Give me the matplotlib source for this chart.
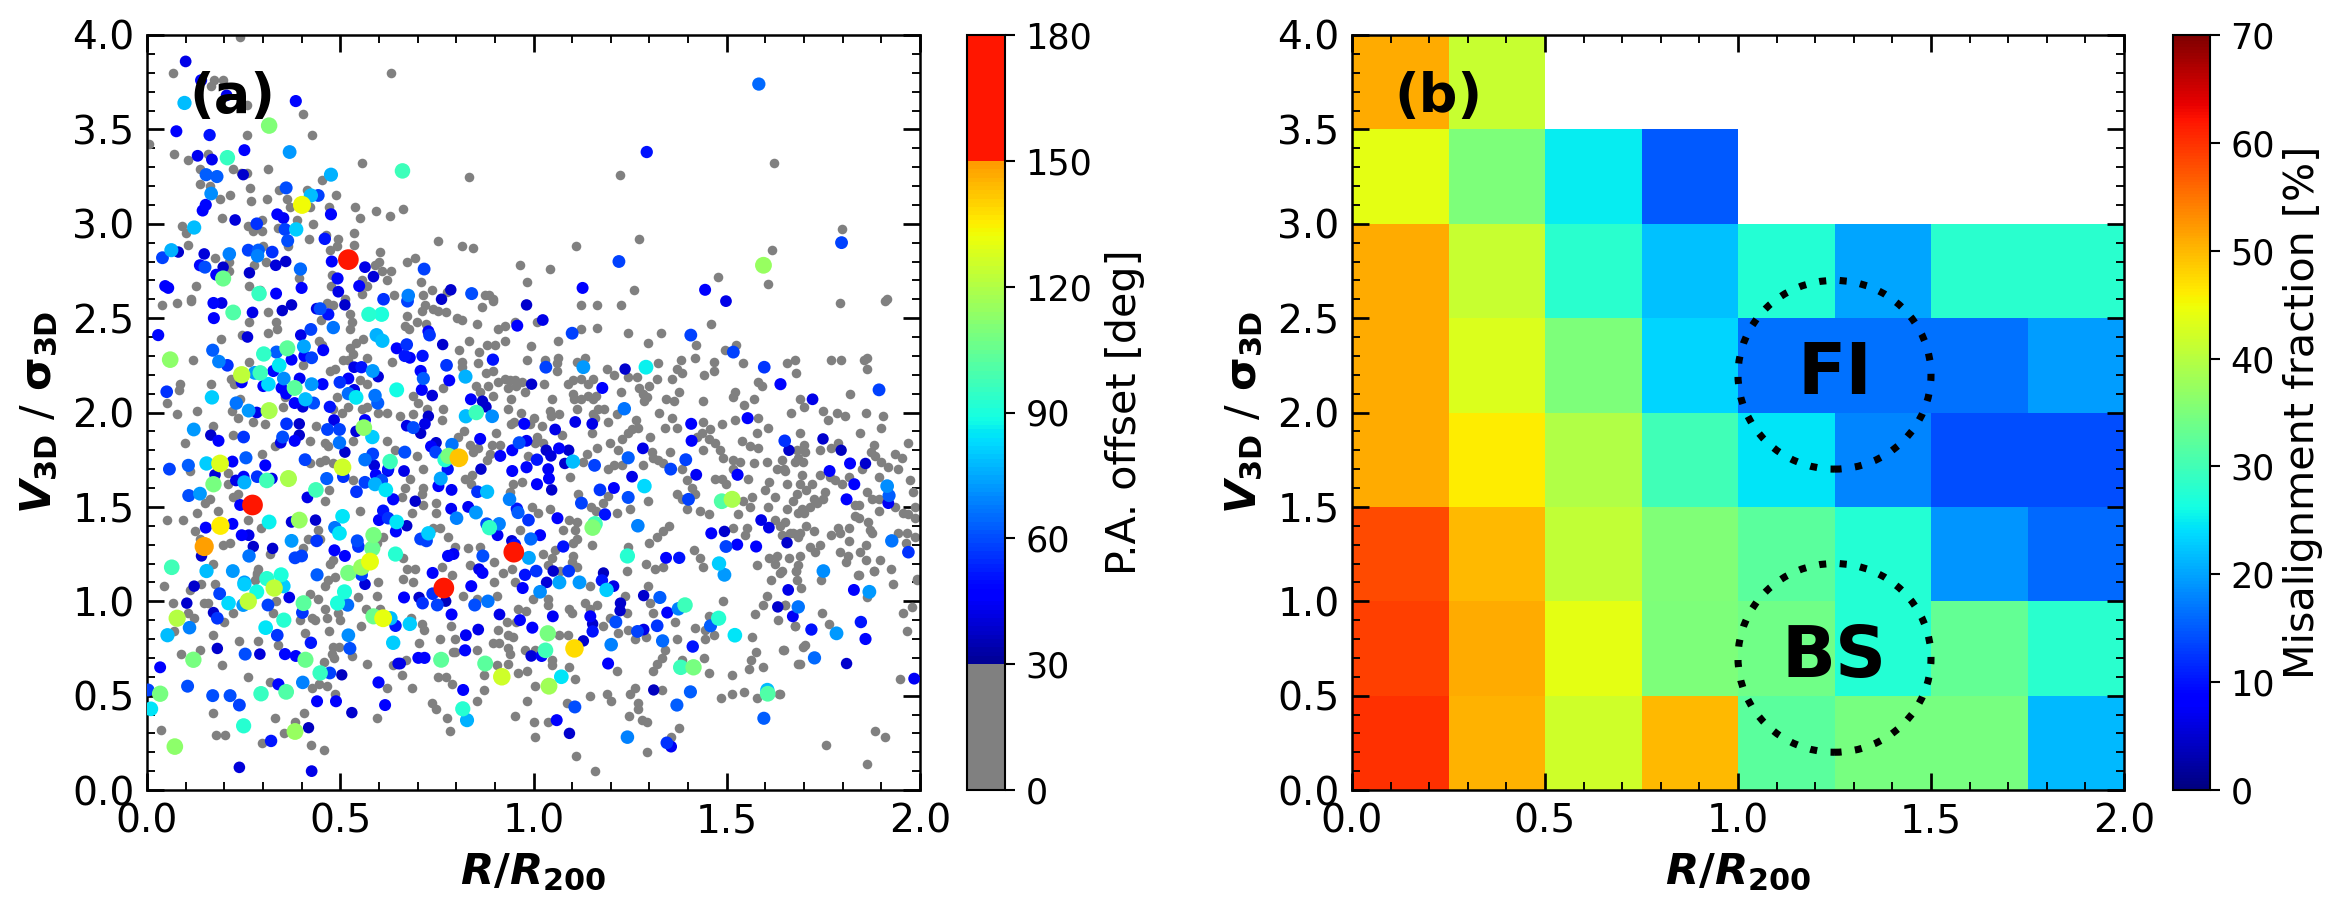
import matplotlib
matplotlib.use('Agg')
import matplotlib.pyplot as plt
from matplotlib.colors import ListedColormap, Normalize
from matplotlib.cm import ScalarMappable
from matplotlib.patches import Ellipse
from matplotlib.ticker import MultipleLocator
import numpy as np

################################
## DATA:                      ##

# (R/R200, V3D/sigma3D) of the aligned galaxies, P.A. offset < 30 deg
gray_pts = [
 (.24,3.99),(.067,3.80),(.165,3.73),(.174,3.76),(.197,3.76),(.259,3.63),(.632,3.80),(.404,3.58),(.26,3.47),(.427,3.47),
 (.005,3.42),(.069,3.37),(.107,3.34),(.159,3.37),(.555,3.32),(.137,3.29),(.222,3.29),(.242,3.27),(.26,3.27),(.313,3.29),
 (.137,3.21),(.163,3.20),(.266,3.19),(.453,3.23),(.341,3.18),(.413,3.18),(.216,3.15),(.488,3.15),(.189,3.13),(.268,3.12),
 (.311,3.13),(.363,3.13),(.37,3.09),(.422,3.09),(.472,3.09),(.538,3.09),(.592,3.07),(.63,3.04),(.193,3.03),(.09,2.99),
 (.262,2.99),(.298,3.02),(.387,3.02),(.552,3.03),(.43,3.0),(.10,2.95),(.107,2.89),(.275,2.96),(.297,2.96),(.34,2.98),
 (.42,2.92),(.494,2.92),(.535,2.95),(.301,2.88),(.535,2.89),(.366,2.88),(.462,2.94),(.473,2.86),(.492,2.88),(.603,2.85),
 (.176,2.82),(.213,2.80),(.599,2.80),(.59,2.78),(.308,2.80),(.277,2.78),(.607,2.75),(.632,2.75),(.478,2.73),(.213,2.75),
 (.393,2.71),(.62,2.70),(.555,2.70),(.126,2.67),(.265,2.67),(.475,2.67),(.568,2.67),(.555,2.63),(.113,2.60),(.512,2.60),
 (.64,2.62),(.292,2.65),(.833,3.25),(1.225,3.26),(1.623,3.32),(.663,3.08),(.753,2.91),(.815,2.88),(.844,2.87),(1.273,2.92),
 (1.11,2.88),(1.618,2.86),(.965,2.78),(1.042,2.76),(.672,2.80),(.693,2.82),(1.478,2.72),(.708,2.69),(.738,2.65),(.983,2.69),
 (1.26,2.65),(1.607,2.68),(.715,2.62),(.775,2.64),(.875,2.62),(.886,2.62),(.896,2.60),(1.797,2.97),(1.915,2.60),
 (.039,2.57),(.078,2.58),(.114,2.59),(.314,2.53),(.263,2.48),(.333,2.48),(.337,2.44),(.191,2.39),(.245,2.41),(.314,2.42),
 (.524,2.44),(.525,2.52),(.53,2.48),(.449,2.49),(.482,2.57),(.465,2.58),(.446,2.38),(.452,2.36),(.56,2.39),(.542,2.37),
 (.525,2.34),(.521,2.28),(.534,2.31),(.508,2.28),(.568,2.29),(.633,2.27),(.118,2.28),(.265,2.27),(.404,2.25),(.486,2.23),
 (.473,2.22),(.085,2.15),(.084,2.12),(.165,2.15),(.217,2.18),(.225,2.15),(.568,2.15),(.551,2.17),(.052,2.05),(.129,2.01),
 (.078,1.99),(.241,2.07),(.357,2.08),(.353,2.03),(.219,2.01),(.236,1.97),(.275,1.95),(.491,2.08),(.482,2.02),(.504,2.0),
 (.521,2.03),(.555,2.02),(.568,2.03),(.598,2.0),(.62,2.0),(.172,1.93),(.306,1.94),(.098,1.84),(.223,1.88),(.437,1.93),
 (.331,1.82),(.423,1.85),(.46,1.84),(.469,1.82),(.448,1.74),(.46,1.75),(.482,1.73),(.534,1.85),(.62,1.85),(.642,1.80),
 (.297,1.78),(.422,1.73),(.111,1.69),(.209,1.68),(.21,1.62),(.534,1.64),(.236,1.57),(.223,1.55),(.163,1.54),(.15,1.52),
 (.46,1.53),(.471,1.59),(.183,1.48),(.129,1.47),(.051,1.43),(.093,1.43),(.262,1.43),(.552,1.48),(.295,1.39),(.124,1.37),
 (.443,1.38),(.137,1.33),(.196,1.30),(.215,1.31),(.417,1.33),(.448,1.33),(.403,1.28),(.482,1.22),(.172,1.20),(.317,1.25),
 (.473,1.20),(.288,1.17),(.284,1.14),(.594,1.31),(.611,1.34),
 (.045,1.08),(.141,1.09),(.111,1.06),(.176,1.09),(.066,.99),(.147,.99),(.159,.99),(.279,1.11),(.285,1.15),(.335,1.0),
 (.422,1.04),(.443,1.01),(.461,1.08),(.469,1.11),(.486,1.13),(.547,1.02),(.594,1.03),(.597,1.10),(.107,.94),(.122,.91),
 (.2,.89),(.222,.94),(.327,.94),(.426,.91),(.435,.90),(.396,.90),(.461,.96),(.465,.91),(.495,.94),(.499,.90),
 (.553,.87),(.566,.96),(.603,.96),(.071,.84),(.172,.82),(.237,.79),(.286,.79),(.409,.83),(.472,.84),(.338,.77),
 (.48,.76),(.497,.76),(.478,.72),(.484,.70),(.531,.71),(.137,.74),(.087,.72),(.57,.67),(.195,.66),(.459,.68),
 (.636,.66),(.262,.60),(.318,.57),(.465,.55),(.446,.56),(.428,.54),(.62,.54),(.486,.51),(.171,.41),(.405,.41),
 (.332,.38),(.596,.38),(.037,.32),(.178,.29),(.201,.29),(.383,.36),(.354,.30),(.297,.25),(.424,.24),(.459,.21),
 (.868,2.56),(.894,2.59),(.719,2.57),(.74,2.55),(.711,2.54),(.753,2.54),(.774,2.53),(.672,2.51),(.803,2.50),(.814,2.49),
 (.853,2.47),(.698,2.48),(.722,2.47),(.668,2.46),(.677,2.44),(.909,2.44),(.926,2.46),(.833,2.38),(.879,2.36),(.901,2.36),
 (.925,2.38),(.952,2.48),(1.008,2.48),(1.123,2.57),(1.164,2.57),(1.226,2.57),(1.124,2.44),(1.165,2.45),(1.244,2.42),(1.33,2.42),
 (1.295,2.37),(1.063,2.38),(.993,2.35),(1.458,2.47),(1.42,2.36),(1.523,2.36),(1.496,2.33),(.807,2.33),(.859,2.32),(.982,2.28),
 (1.03,2.28),(1.064,2.29),(1.06,2.26),(1.112,2.27),(1.133,2.29),(1.323,2.26),(1.381,2.28),(1.417,2.29),(1.466,2.27),(1.541,2.26),
 (1.655,2.26),(1.676,2.28),(.814,2.27),(.857,2.26),(.814,2.24),(.896,2.22),(.877,2.21),(1.062,2.22),(1.191,2.23),(1.209,2.20),
 (1.245,2.19),(1.269,2.19),(1.371,2.23),(1.385,2.21),(1.358,2.18),(1.319,2.18),(1.44,2.20),(1.468,2.22),(1.678,2.21),(1.122,2.18),
 (1.103,2.17),(1.088,2.15),(1.155,2.18),(1.142,2.15),(1.3,2.14),(1.274,2.13),(1.582,2.16),(1.591,2.14),(.927,2.18),(.909,2.16),
 (.94,2.17),(.953,2.17),(.97,2.16),(.956,2.14),(.978,2.11),(.935,2.13),(1.028,2.15),(.852,2.14),(.881,2.14),(.861,2.11),
 (.894,2.09),(.767,2.13),(.688,2.09),(.702,2.05),(.767,2.02),(.942,2.07),(1.048,2.07),(1.103,2.10),(1.105,2.07),(1.124,2.07),
 (1.142,2.09),(1.163,2.09),(1.155,2.07),(1.227,2.11),(1.377,2.11),(1.284,2.10),(1.293,2.08),(1.287,2.06),(1.342,2.07),(1.364,2.06),
 (1.521,2.11),(1.517,2.08),(1.571,2.07),(1.545,2.04),(1.438,2.06),(.933,2.02),(1.112,2.02),(1.043,2.01),(1.045,1.98),(1.067,1.99),
 (1.168,2.02),(1.155,1.99),(1.183,2.02),(1.215,1.99),(1.326,2.0),(1.666,2.0),(.724,2.02),(.763,1.96),(.689,1.99),(.655,1.98),
 (.95,1.95),(.967,2.0),(.942,1.94),(1.002,1.97),(.991,1.94),(1.021,1.93),(1.074,1.88),(1.159,1.97),(1.194,1.95),(1.265,1.96),
 (1.271,1.92),(1.254,1.91),(1.358,1.97),(1.34,1.92),(1.37,1.92),(1.439,1.95),(1.456,1.91),(1.487,1.94),(1.521,1.96),(1.582,1.97),
 (1.608,1.92),(1.151,1.89),(1.245,1.89),(1.228,1.86),(1.301,1.87),(1.435,1.89),(1.422,1.87),(1.453,1.86),(1.577,1.89),(1.539,1.85),
 (.903,1.89),(.819,1.90),(.805,1.87),(.836,1.83),(.892,1.83),(.913,1.83),(.857,1.81),(.844,1.79),(1.009,1.87),(1.004,1.84),
 (.987,1.77),(1.025,1.84),(1.164,1.81),(1.198,1.84),(1.218,1.80),(1.469,1.84),(1.482,1.80),(1.439,1.80),(1.56,1.82),(1.582,1.81),
 (1.306,1.79),(1.353,1.79),(1.491,1.76),(1.517,1.75),(1.534,1.74),(1.336,1.73),(1.31,1.76),(1.323,1.75),(1.603,1.74),(1.571,1.73),
 (1.685,1.76),(1.642,1.75),(.698,1.77),(.879,1.75),(.888,1.78),(1.138,1.78),(1.129,1.74),(1.194,1.70),(1.207,1.72),(1.229,1.72),
 (1.283,1.72),(1.384,1.70),(1.517,1.70),(1.629,1.70),(1.651,1.69),(.715,1.70),(.823,1.65),(.84,1.67),(.681,1.65),(1.094,1.66),
 (1.396,1.64),(1.47,1.65),(1.487,1.65),(1.556,1.65),(1.499,1.62),(1.609,1.63),(1.657,1.62),(1.409,1.60),(.668,1.60),(.715,1.60),
 (.838,1.62),(.948,1.62),(.969,1.63),(.94,1.58),(1.418,1.57),(1.371,1.57),(1.384,1.54),(1.599,1.59),(1.625,1.55),(1.116,1.57),
 (1.194,1.56),(.659,1.55),(.711,1.57),(.715,1.51),(.749,1.52),(.749,1.47),(.685,1.47),(1.681,1.57),(1.565,1.55),(1.543,1.53),
 (1.559,1.50),(1.608,1.50),(1.655,1.49),(1.685,1.47),(1.15,1.50),(1.181,1.52),(1.161,1.48),(1.215,1.47),(1.249,1.49),(1.295,1.53),
 (1.397,1.49),(1.431,1.48),(1.454,1.46),(1.529,1.46),(.997,1.50),(1.043,1.49),(1.012,1.47),(1.092,1.43),(1.112,1.42),(1.108,1.38),
 (1.319,1.34),(1.336,1.37),(1.351,1.40),(1.298,1.31),(1.517,1.39),(1.552,1.39),(1.547,1.35),(1.625,1.43),(1.685,1.34),(1.642,1.35),
 (1.664,1.36),(.758,1.39),(.779,1.34),(.741,1.39),(.965,1.38),(1.077,1.38),(1.112,1.33),(1.103,1.31),(1.151,1.30),(.83,1.28),
 (.862,1.29),(.797,1.29),(1.416,1.27),(1.431,1.23),(1.61,1.23),(1.63,1.24),(1.66,1.23),(1.579,1.19),(1.625,1.20),(1.638,1.15),
 (1.685,1.19),(1.29,1.20),(1.315,1.17),(1.336,1.18),(1.439,1.18),(1.241,1.16),(1.245,1.29),(1.025,1.25),(1.055,1.27),(1.103,1.24),
 (1.047,1.23),(1.038,1.19),(1.099,1.21),(1.112,1.18),(1.069,1.16),(.898,1.21),(.836,1.19),(.921,1.15),(.944,1.17),(.694,1.17),
 (.672,1.17),(.763,1.18),(.663,1.23),
 (1.793,2.58),(1.91,2.59),(1.771,2.28),(1.796,2.28),(1.854,2.28),(1.864,2.29),(1.862,2.23),(1.819,2.10),(1.689,2.07),(1.701,2.03),
 (1.75,2.01),(1.785,2.0),(1.806,1.98),(1.761,1.96),(1.86,2.0),(1.904,1.98),(1.898,1.92),(1.846,1.89),(1.689,1.89),(1.701,1.83),
 (1.881,1.83),(1.97,1.84),(1.771,1.81),(1.789,1.84),(1.74,1.80),(1.702,1.79),(1.681,1.80),(1.873,1.79),(1.883,1.77),(1.935,1.78),
 (1.953,1.76),(1.698,1.74),(1.676,1.74),(1.9,1.74),(1.849,1.70),(1.918,1.71),(1.943,1.70),(1.648,1.70),(1.694,1.67),(1.74,1.67),
 (1.816,1.66),(1.767,1.66),(1.78,1.64),(1.797,1.62),(1.895,1.66),(1.973,1.64),(1.69,1.62),(1.72,1.62),(1.705,1.59),(1.754,1.58),
 (1.983,1.58),(1.862,1.58),(1.75,1.54),(1.727,1.54),(1.875,1.54),(1.893,1.54),(1.672,1.53),(1.694,1.49),(1.716,1.50),(1.733,1.52),
 (1.70,1.47),(1.832,1.51),(1.842,1.51),(1.935,1.50),(1.894,1.48),(1.957,1.47),(1.97,1.46),(1.987,1.44),(1.987,1.50),(1.832,1.45),
 (1.841,1.44),(1.65,1.42),(1.638,1.40),(1.866,1.42),(1.705,1.40),(1.727,1.37),(1.69,1.36),(1.672,1.36),(1.789,1.39),(1.817,1.39),
 (1.871,1.38),(1.875,1.36),(1.771,1.35),(1.793,1.36),(1.817,1.32),(1.944,1.36),(1.966,1.36),(1.987,1.34),(1.964,1.31),(1.86,1.30),
 (1.716,1.29),(1.74,1.30),(1.729,1.26),(1.793,1.26),(1.815,1.24),(1.845,1.26),(1.86,1.22),(1.897,1.22),(1.689,1.24),(1.809,1.21),
 (1.679,1.16),(1.881,1.16),(1.841,1.14),(1.925,1.17),(1.992,1.11),
 (.689,1.10),(.663,1.12),(.788,1.14),(.899,1.10),(.952,1.10),(.818,1.03),(.853,1.01),(.905,1.03),(.999,1.01),(1.038,1.01),
 (1.038,.98),(1.147,1.08),(1.133,.99),(1.164,.98),(1.147,.96),(.961,.96),(.98,.95),(1.093,.96),(1.099,.94),(.682,.91),
 (.711,.88),(.717,.85),(.787,.87),(.955,.89),(.931,.89),(1.179,.87),(1.198,.91),(1.237,1.03),(1.296,1.08),(1.301,.99),
 (1.31,.94),(1.365,.89),(1.241,.94),(1.245,.85),(1.262,.80),(1.291,.81),(1.371,.80),(1.418,.86),(1.453,.92),(1.444,.85),
 (1.466,.82),(1.444,.80),(1.572,.93),(1.632,.90),(1.49,1.0),(1.603,1.03),(1.615,1.11),(1.595,.98),(1.651,.98),(1.676,.87),
 (1.565,.81),(1.576,.73),(1.646,.74),(1.562,.69),(1.558,.64),(1.593,.65),(1.685,.67),(.907,.85),(.935,.82),(.948,.81),
 (1.065,.82),(1.09,.82),(1.219,.83),(.758,.80),(.797,.80),(.705,.78),(.895,.78),(.912,.78),(.853,.74),(.797,.73),
 (.793,.73),(.933,.75),(.938,.72),(.933,.67),(.978,.74),(1.004,.74),(1.048,.69),(1.048,.66),(.906,.66),(.873,.61),
 (.669,.69),(1.34,.74),(1.332,.70),(1.319,.67),(1.308,.63),(1.215,.63),(1.384,.69),(1.441,.70),(1.454,.62),(1.513,.61),
 (1.092,.65),(.984,.63),(.961,.62),(.752,.60),(.773,.60),(.788,.56),(.661,.61),(.685,.54),(.871,.53),(1.004,.55),
 (1.107,.59),(1.263,.54),(1.25,.51),(1.332,.53),(1.189,.51),(1.201,.47),(1.146,.50),(1.485,.49),(1.513,.51),(1.545,.52),
 (1.577,.49),(1.634,.51),(.738,.46),(.748,.43),(.855,.47),(.984,.47),(1.086,.46),(1.271,.46),(1.271,.43),(.775,.38),
 (.952,.39),(1.0,.36),(1.037,.36),(1.246,.39),(1.28,.37),(1.294,.36),(1.377,.33),(.784,.31),(1.003,.28),(1.356,.28),
 (1.109,.18),(1.293,.20),(1.16,.10),
 (1.642,1.16),(1.678,1.16),(1.681,1.11),(1.744,1.11),(1.84,1.14),(1.881,1.16),(1.93,1.09),(1.991,1.12),(1.691,1.07),(1.651,.98),
 (1.746,.94),(1.864,1.02),(1.98,.97),(1.957,.94),(1.677,.87),(1.765,.88),(1.966,.84),(1.648,.74),(1.696,.76),(1.702,.77),
 (1.689,.67),(1.948,.59),(1.638,.51),(1.883,.31),(1.909,.28),(1.756,.24),(1.864,.14),
]

# (R/R200, V3D/sigma3D, P.A. offset) of the misaligned galaxies
misaligned_pts = [
 (.10,3.86,42),(.14,3.76,48),(.097,3.64,78),(.206,3.68,42),(.385,3.65,48),(.316,3.52,110),(.076,3.49,46),(.162,3.47,50),
 (.208,3.35,95),(.252,3.39,45),(.369,3.38,72),(.131,3.36,43),(.168,3.34,43),(.249,3.26,38),(.153,3.26,62),(.181,3.25,62),
 (.476,3.26,76),(.36,3.19,60),(.166,3.16,70),(.424,3.15,78),(.443,3.15,58),(.401,3.10,132),(.152,3.10,48),(.144,3.07,46),
 (.476,3.05,48),(.337,3.05,45),(.353,3.03,44),(.228,3.02,40),(.284,3.00,55),(.122,2.98,78),(.357,2.97,58),(.386,2.97,80),
 (.46,2.92,52),(.364,2.91,60),(.063,2.86,76),(.081,2.85,38),(.148,2.84,40),(.213,2.84,68),(.262,2.86,58),(.288,2.86,62),
 (.286,2.83,68),(.324,2.85,55),(.04,2.82,58),(.137,2.78,48),(.15,2.77,60),(.197,2.77,38),(.179,2.73,45),(.197,2.71,105),
 (.265,2.74,38),(.333,2.78,40),(.359,2.80,38),(.397,2.76,64),(.521,2.81,170),(.478,2.80,46),(.564,2.77,42),(.586,2.72,40),
 (.493,2.71,48),(.549,2.67,46),(.40,2.66,47),(.334,2.63,45),(.495,2.64,42),(.29,2.63,95),(.047,2.67,45),(.055,2.66,45),
 (.612,2.60,55),
 (.172,2.58,48),(.193,2.58,42),(.223,2.53,100),(.273,2.53,42),(.35,2.54,38),(.374,2.57,38),(.173,2.50,47),(.439,2.55,42),
 (.448,2.55,60),(.469,2.52,50),(.512,2.57,38),(.574,2.52,92),(.607,2.52,90),(.029,2.41,48),(.26,2.40,40),(.398,2.41,42),
 (.424,2.44,58),(.482,2.45,66),(.594,2.41,76),(.609,2.38,78),(.17,2.33,62),(.186,2.27,68),(.208,2.25,55),(.302,2.31,94),
 (.335,2.32,62),(.363,2.34,104),(.406,2.35,74),(.456,2.33,46),(.646,2.34,45),(.374,2.28,45),(.407,2.30,45),(.426,2.29,58),
 (.06,2.28,112),(.342,2.25,85),(.279,2.21,72),(.293,2.21,96),(.327,2.22,48),(.245,2.20,122),(.245,2.16,45),(.301,2.14,46),
 (.314,2.15,82),(.354,2.18,70),(.395,2.18,44),(.382,2.13,102),(.426,2.15,72),(.454,2.15,48),(.348,2.13,45),(.36,2.10,45),
 (.499,2.16,55),(.521,2.18,45),(.536,2.24,42),(.555,2.24,50),(.584,2.22,72),(.598,2.19,40),(.646,2.12,88),(.536,2.12,42),
 (.521,2.10,65),(.541,2.08,85),(.59,2.09,66),(.597,2.05,62),(.41,2.07,78),(.382,2.05,45),(.403,2.03,40),(.431,2.05,60),
 (.473,2.03,50),(.051,2.11,55),(.168,2.08,80),(.231,2.05,66),(.263,2.01,72),(.284,2.0,42),(.316,2.01,118),(.121,1.91,72),
 (.165,1.88,38),(.185,1.85,46),(.25,1.87,56),(.361,1.94,55),(.394,1.94,38),(.394,1.88,38),(.351,1.87,60),(.346,1.84,42),
 (.382,1.85,46),(.484,1.96,42),(.467,1.91,58),(.498,1.91,58),(.564,1.96,45),(.541,1.90,40),(.561,1.92,112),(.583,1.87,80),
 (.498,1.84,66),(.512,1.79,38),(.409,1.75,58),(.256,1.76,62),(.189,1.73,128),(.154,1.73,80),(.221,1.74,45),(.306,1.72,46),
 (.107,1.72,62),(.058,1.70,58),(.506,1.71,125),(.564,1.75,66),(.584,1.78,58),(.588,1.72,40),(.629,1.74,96),(.624,1.70,50),
 (.176,1.67,40),(.25,1.66,45),(.23,1.64,42),(.285,1.66,55),(.252,1.63,76),(.323,1.65,42),(.31,1.64,98),(.366,1.65,118),
 (.465,1.65,62),(.508,1.66,55),(.564,1.63,58),(.592,1.67,45),(.607,1.64,60),(.59,1.62,76),(.618,1.59,84),(.623,1.69,42),
 (.542,1.58,55),(.172,1.62,108),(.437,1.59,98),(.108,1.56,60),(.137,1.57,72),(.415,1.55,42),(.637,1.54,48),(.241,1.51,45),
 (.273,1.51,170),(.611,1.48,50),(.506,1.45,84),(.60,1.43,45),(.624,1.44,55),(.646,1.42,84),(.436,1.43,38),(.374,1.42,40),
 (.394,1.43,115),(.316,1.42,86),(.152,1.39,45),(.19,1.40,135),(.221,1.41,45),(.486,1.39,66),(.498,1.36,84),(.644,1.37,48),
 (.245,1.35,45),(.263,1.35,42),(.374,1.32,72),(.439,1.32,56),(.586,1.35,108),(.544,1.32,60),(.547,1.29,55),(.148,1.29,148),
 (.141,1.24,38),(.275,1.29,38),(.325,1.28,38),(.583,1.28,105),(.485,1.27,46),(.512,1.24,46),(.643,1.25,92),(.264,1.24,66),
 (.383,1.23,58),(.40,1.24,58),(.577,1.21,130),(.064,1.18,98),(.154,1.16,78),(.222,1.16,72),(.521,1.15,108),(.555,1.18,115),
 (.44,1.14,62),(.555,1.14,58),(.31,1.12,92),(.347,1.14,90),(.252,1.10,72),
 (.252,1.09,80),(.353,1.08,80),(.329,1.07,122),(.122,1.08,38),(.188,1.04,58),(.284,1.05,88),(.368,1.02,42),(.511,1.05,90),
 (.564,1.09,40),(.262,1.0,122),(.211,.99,82),(.249,.98,72),(.103,.99,38),(.313,.98,58),(.405,.99,102),(.493,.99,90),
 (.519,.98,65),(.402,.94,56),(.172,.94,38),(.182,.91,56),(.354,.90,92),(.586,.92,105),(.611,.91,130),(.63,.91,78),
 (.078,.91,120),(.643,.87,52),(.11,.86,68),(.307,.86,84),(.053,.82,78),(.337,.82,56),(.521,.82,70),(.637,.78,80),
 (.424,.78,52),(.525,.75,60),(.182,.75,38),(.254,.72,60),(.292,.72,40),(.357,.72,48),(.385,.71,45),(.41,.69,105),
 (.12,.69,108),(.65,.67,42),(.034,.65,45),(.448,.62,95),(.473,.62,58),(.504,.61,36),(.403,.57,68),(.34,.56,48),
 (.599,.57,48),(.105,.55,60),(.36,.52,100),(.295,.51,95),(.034,.51,108),(.003,.53,58),(.17,.50,60),(.215,.50,60),
 (.239,.45,58),(.44,.47,46),(.489,.47,46),(.616,.45,46),(.01,.43,84),(.53,.41,38),(.25,.34,92),(.418,.33,36),
 (.383,.31,115),(.321,.26,52),(.072,.23,112),(.239,.12,40),(.426,.10,42),
 (.676,2.62,68),(.674,2.59,58),(.786,2.65,38),(.762,2.60,38),(.84,2.63,60),(.982,2.57,38),(1.127,2.66,46),(1.444,2.65,46),
 (1.498,2.59,42),(1.024,2.49,42),(.958,2.46,46),(1.10,2.42,58),(1.407,2.41,58),(.731,2.41,56),(.728,2.43,45),(.765,2.36,38),
 (.672,2.36,55),(.713,2.30,50),(.667,2.30,52),(.68,2.29,45),(1.517,2.32,58),(.895,2.28,50),(.775,2.25,56),(1.032,2.24,58),
 (1.129,2.24,72),(1.291,2.24,86),(1.237,2.23,38),(1.597,2.24,56),(.824,2.19,76),(.708,2.22,48),(.715,2.18,62),(.782,2.17,46),
 (1.639,2.15,48),(.711,2.12,47),(.738,2.09,40),(.995,2.15,38),(1.178,2.13,46),(.838,2.07,45),(.868,2.06,38),(.877,2.03,38),
 (1.235,2.02,66),(.825,1.98,78),(.852,2.0,96),(.893,1.98,70),(.672,1.93,42),(.689,1.92,60),(.719,1.94,42),(.728,1.98,38),
 (.708,1.89,38),(.976,1.94,46),(1.056,1.91,42),(1.108,1.95,42),(1.152,1.94,42),(1.554,1.97,47),(1.408,1.94,46),(1.409,1.85,46),
 (1.65,1.85,55),(1.661,1.80,38),(.862,1.86,46),(.789,1.83,66),(.748,1.84,38),(.735,1.82,47),(.747,1.79,58),(.667,1.79,60),
 (.780,1.77,108),(.771,1.75,92),(.807,1.76,142),(.778,1.70,50),(.76,1.65,74),(.754,1.61,46),(.982,1.85,44),(.963,1.84,60),
 (.945,1.80,46),(.914,1.77,46),(1.033,1.80,38),(1.066,1.81,45),(1.091,1.80,38),(1.045,1.77,40),(1.009,1.75,52),(1.081,1.73,38),
 (1.102,1.74,78),(1.158,1.72,58),(1.245,1.76,62),(1.283,1.81,42),(1.394,1.75,58),(1.355,1.70,58),(1.255,1.66,42),(1.421,1.67,44),
 (1.528,1.67,47),(.864,1.70,38),(.945,1.69,46),(.982,1.71,48),(1.038,1.70,44),(1.04,1.65,45),(1.009,1.62,47),(1.047,1.59,38),
 (.665,1.69,42),(.788,1.59,44),(.855,1.58,55),(.88,1.58,78),(.938,1.54,68),(1.172,1.59,56),(1.208,1.60,45),(1.287,1.61,82),
 (1.245,1.55,60),(1.124,1.52,58),(1.401,1.54,58),(1.487,1.53,100),(1.514,1.54,118),(.694,1.53,38),(.787,1.49,44),(.831,1.50,44),
 (.851,1.47,72),(.801,1.44,68),(.957,1.49,52),(.96,1.47,62),(.987,1.43,55),(1.062,1.44,46),(1.185,1.46,50),(1.27,1.40,68),
 (1.589,1.43,42),(1.609,1.39,42),(1.159,1.41,98),(1.153,1.39,110),(.672,1.40,38),(.886,1.39,94),(.879,1.41,60),(.911,1.41,68),
 (.907,1.35,44),(1.46,1.36,46),(1.494,1.37,38),(1.527,1.30,46),(1.498,1.29,58),(1.576,1.29,47),(1.656,1.31,38),(.728,1.36,80),
 (.708,1.33,58),(.723,1.32,58),(.944,1.32,40),(.952,1.30,50),(1.017,1.35,46),(.993,1.33,64),(1.077,1.29,50),(.779,1.24,48),
 (.793,1.25,44),(.869,1.24,60),(.988,1.23,74),(.949,1.26,170),(1.243,1.24,92),(1.343,1.23,45),(1.377,1.23,50),(1.051,1.16,38),
 (.739,1.15,46),(.859,1.17,42),(.868,1.15,46),(.978,1.14,50),(1.007,1.16,55),(1.091,1.16,56),(1.48,1.20,80),(1.494,1.14,72),
 (.768,1.07,170),(.739,1.04,55),(.665,1.02,46),(.704,1.02,38),(.713,.99,55),(.751,.98,58),(.773,1.0,36),(.788,.93,46),
 (.839,1.08,46),(.848,.98,60),(.882,1.0,66),(.68,.88,80),(.912,.93,42),(.965,.90,45),(.997,.86,47),(1.05,.92,44),
 (.857,.85,42),(.825,.82,44),(.823,.74,48),(.761,.69,103),(.702,.70,46),(.718,.70,48),(.655,.67,42),(.875,.67,102),
 (.918,.60,125),(.994,.71,40),(1.021,.71,46),(1.031,.74,98),(1.037,.83,108),(1.106,.75,138),(1.129,.79,38),(1.072,.60,84),
 (1.04,.55,116),(.818,.53,46),(.817,.43,92),(.828,.37,76),(1.06,.37,46),(1.107,.44,60),(1.093,.30,38),(1.243,.28,68),
 (1.345,.25,55),(1.356,.23,44),(1.596,.38,62),(1.605,.53,78),(1.606,.51,100),(1.371,.45,62),(1.406,.52,62),(1.311,.53,36),
 (1.381,.65,96),(1.414,.65,108),(1.193,.67,46),(1.201,.77,68),(1.153,.84,50),(1.153,.88,38),(1.147,.92,46),(1.213,.89,60),
 (1.224,.95,38),(1.225,.99,38),(1.346,.94,46),(1.269,.84,58),(1.285,.85,42),(1.32,.87,56),(1.334,.79,64),(1.412,.76,52),
 (1.458,.87,62),(1.479,.91,92),(1.521,.82,84),(1.392,.98,96),(1.375,.96,68),(1.327,1.02,62),(1.285,1.03,38),(1.189,1.06,80),
 (1.207,1.08,42),(1.177,1.11,52),(1.181,1.15,36),(1.119,1.10,72),(1.067,1.10,74),(1.034,1.10,40),(1.017,1.05,70),(.972,1.07,46),
 (1.659,1.06,42),(1.632,.97,38),(1.671,.92,44),(1.685,.97,66),
 (1.797,2.90,58),(1.583,3.74,64),(1.293,3.38,50),(.661,3.28,96),(1.595,2.78,115),(1.221,2.80,58),(.717,2.76,58),
 (1.894,2.12,58),(1.722,2.07,42),(1.749,1.86,38),(1.796,1.80,36),(1.819,1.73,46),(1.859,1.73,38),(1.766,1.69,45),(1.83,1.62,46),
 (1.915,1.61,70),(1.92,1.56,62),(1.81,1.54,46),(1.918,1.52,44),(1.927,1.32,66),(1.97,1.26,55),(1.75,1.16,70),
 (1.829,1.06,45),(1.869,1.05,72),(1.847,.89,52),(1.719,.85,50),(1.784,.83,72),(1.859,.80,48),(1.727,.70,64),(1.81,.67,38),
 (1.985,.59,44),
]

# misalignment fraction [%], rows from V/sigma = 0 upward, columns from R/R200 = 0
r_edges = [0, .25, .5, .75, 1, 1.25, 1.5, 1.75, 2]
v_edges = [0, .5, 1, 1.5, 2, 2.5, 3, 3.5, 4]
frac_row0 = [60, 50.5, 42, 50, 32, 34.5, 34.5, 21.5]
frac_row1 = [59, 51, 44, 35, 34, 27.5, 33, 28]
frac_row2 = [58, 50, 41, 35.5, 32, 27.5, 19, 16]
frac_row3 = [51, 46, 39.5, 30, 24.5, 18, 14, 14]
frac_row4 = [51, 43, 35, 23.5, 16.5, 16.5, 16.5, 19.5]
frac_row5 = [51, 41.5, 28, 22, 27.5, 20, 28, 28]
frac_row6 = [44, 35, 25, 15, np.nan, np.nan, np.nan, np.nan]
frac_row7 = [51, 41.5, np.nan, np.nan, np.nan, np.nan, np.nan, np.nan]

offset_ticks = [0, 30, 60, 90, 120, 150, 180]
frac_ticks = [0, 10, 20, 30, 40, 50, 60, 70]

################################
## SETUP:                     ##

W, H = 2346, 911
DPI = 300
TICK_FS = 9.4
LABEL_FS = 10.4
CBAR_FS = 8.4
PX = 72 / DPI   # one pixel in points

def rect(x0, y0, x1, y1):
    return [x0 / W, 1 - y1 / H, (x1 - x0) / W, (y1 - y0) / H]

def style_axes(ax):
    ax.set_xlim(0, 2)
    ax.set_ylim(0, 4)
    ax.xaxis.set_major_locator(MultipleLocator(.5))
    ax.xaxis.set_minor_locator(MultipleLocator(.1))
    ax.yaxis.set_major_locator(MultipleLocator(.5))
    ax.yaxis.set_minor_locator(MultipleLocator(.1))
    ax.tick_params(which='both', direction='in', top=True, right=True)
    ax.tick_params(which='major', length=4, width=.65, labelsize=TICK_FS, pad=3)
    ax.tick_params(which='minor', length=2, width=.45)
    for s in ax.spines.values():
        s.set_linewidth(.6)
    ax.set_xlabel(r'$\boldsymbol{R/R}_{\mathbf{200}}$', fontsize=LABEL_FS, labelpad=2.5)
    ax.set_ylabel(r'$\boldsymbol{V}_{\mathbf{3D}}\ /\ \mathbf{\sigma}_{\mathbf{3D}}$', fontsize=LABEL_FS, labelpad=3)

def style_cbar(cb, label, pad):
    cb.outline.set_linewidth(.5)
    cb.ax.tick_params(length=2.4, width=.5, labelsize=CBAR_FS, pad=2.5, direction='out')
    cb.ax.minorticks_off()
    cb.set_label(label, fontsize=9.9, labelpad=pad)

fig = plt.figure(figsize=(W / DPI, H / DPI), dpi=DPI)

################################
## PANEL A:                   ##

gray = np.array(gray_pts)
mis = np.array(misaligned_pts)
mis = mis[np.argsort(mis[:, 2])]

# gray below 30 deg, jet up to 150 deg, plain red above
seg = plt.get_cmap('jet')(np.linspace(.02, .745, 120))
offset_cmap = ListedColormap(np.vstack([[[.5, .5, .5, 1]] * 30, seg, [plt.get_cmap('jet')(.885)] * 30]))
offset_norm = Normalize(0, 180)

ax_a = fig.add_axes(rect(147, 35, 920, 790))
ax_a.scatter(gray[:, 0], gray[:, 1], s=(9.6 * PX) ** 2, c='#808080', linewidths=0, zorder=2)
ax_a.scatter(mis[:, 0], mis[:, 1], s=((8.8 + .07 * mis[:, 2]) * PX) ** 2, c=mis[:, 2],
             cmap=offset_cmap, norm=offset_norm, linewidths=0, zorder=3)
style_axes(ax_a)
ax_a.text(.11, 3.67, '(a)', fontsize=13, fontweight='bold', va='center', zorder=5)

cax_a = fig.add_axes(rect(967, 35, 1005, 790))
cb_a = fig.colorbar(ScalarMappable(norm=offset_norm, cmap=offset_cmap), cax=cax_a, ticks=offset_ticks)
style_cbar(cb_a, 'P.A. offset [deg]', 3)

################################
## PANEL B:                   ##

frac = np.ma.masked_invalid([frac_row0, frac_row1, frac_row2, frac_row3,
                             frac_row4, frac_row5, frac_row6, frac_row7])
ax_b = fig.add_axes(rect(1352, 35, 2124, 790))
mesh = ax_b.pcolormesh(r_edges, v_edges, frac, cmap='jet', vmin=0, vmax=70)
style_axes(ax_b)
ax_b.text(.11, 3.67, '(b)', fontsize=13, fontweight='bold', va='center', zorder=5)

for yc, name in [(2.2, 'FI'), (.7, 'BS')]:
    ax_b.add_patch(Ellipse((1.25, yc), .5, 1.0, fill=False, ec='k', lw=1.7,
                           linestyle=(0, (1, 1.9)), zorder=4))
    ax_b.text(1.25, yc, name, fontsize=17, fontweight='bold', ha='center', va='center', zorder=5)

cax_b = fig.add_axes(rect(2173, 35, 2210, 790))
cb_b = fig.colorbar(mesh, cax=cax_b, ticks=frac_ticks)
style_cbar(cb_b, 'Misalignment fraction [%]', 2)

fig.savefig('out.png', dpi=DPI)
